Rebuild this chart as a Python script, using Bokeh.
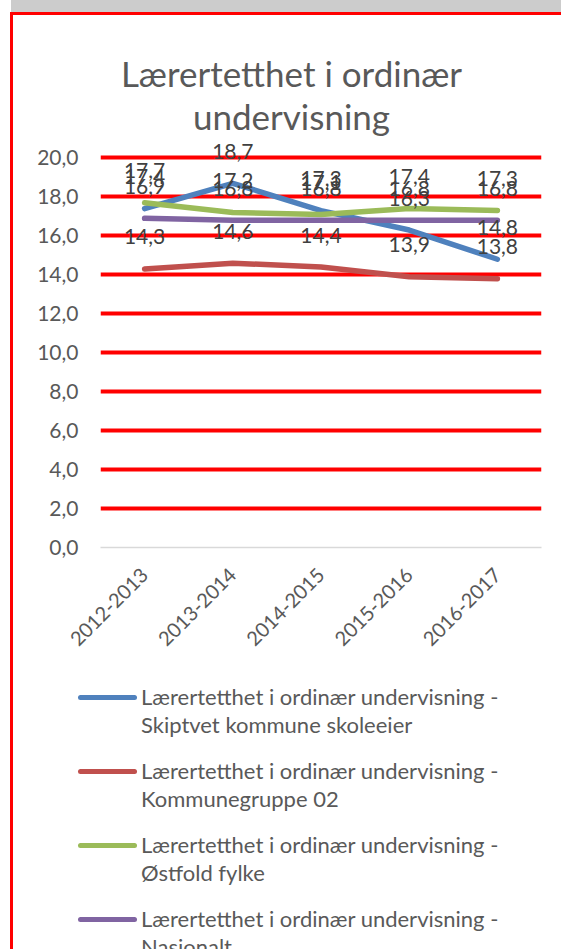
import math
from bokeh.plotting import figure
from bokeh.layouts import column, row
from bokeh.models import (ColumnDataSource, LabelSet, FixedTicker, Range1d,
                          CustomJSTickFormatter, Div, Spacer)
from bokeh.embed import file_html
from bokeh.resources import INLINE
from bokeh.core.properties import value

# ---------------- data ----------------
categories = ["2012-2013", "2013-2014", "2014-2015", "2015-2016", "2016-2017"]
skiptvet = [17.4, 18.7, 17.3, 16.3, 14.8]
kommunegruppe = [14.3, 14.6, 14.4, 13.9, 13.8]
ostfold = [17.7, 17.2, 17.1, 17.4, 17.3]
nasjonalt = [16.9, 16.8, 16.8, 16.8, 16.8]
series_names = [
    "Lærertetthet i ordinær undervisning - Skiptvet kommune skoleeier",
    "Lærertetthet i ordinær undervisning - Kommunegruppe 02",
    "Lærertetthet i ordinær undervisning - Østfold fylke",
    "Lærertetthet i ordinær undervisning - Nasjonalt",
]
y_ticks = [0, 2, 4, 6, 8, 10, 12, 14, 16, 18, 20]
title_lines = ["Lærertetthet i ordinær", "undervisning"]

colors = ["#4F81BD", "#C0504D", "#9BBB59", "#8064A2"]
FONT = "Lato"
TXT = "#595959"
W, H = 561, 949

# page geometry (pixels)
X0 = 13            # left edge of inner content (after red border)
Y0 = 15            # top edge of inner content (after grey band + red border)
FRAME_L, FRAME_R = 100, 541
TITLE_H = 123
CHART_H = 527
LEG_H = H - Y0 - TITLE_H - CHART_H
INNER_W = W - X0

# ---------------- title ----------------
tf = figure(width=INNER_W, height=TITLE_H, x_range=Range1d(FRAME_L, FRAME_R),
            y_range=Range1d(Y0 + TITLE_H, Y0), output_backend="svg",
            toolbar_location=None, title=None, x_axis_location=None, y_axis_location=None,
            min_border_left=FRAME_L - X0, min_border_right=W - FRAME_R,
            min_border_top=0, min_border_bottom=0, margin=0)
tf.grid.visible = False
tf.outline_line_color = None
tf.text(x=[291] * len(title_lines), y=[72 + 43 * i for i in range(len(title_lines))],
        text=title_lines, text_align="center", text_baseline="alphabetic",
        text_font=value(FONT), text_font_size="35px", text_color=TXT)

# ---------------- chart ----------------
p = figure(x_range=categories, y_range=Range1d(0, 21), width=INNER_W, height=CHART_H,
           output_backend="svg", toolbar_location=None, title=None,
           min_border_left=FRAME_L - X0, min_border_right=W - FRAME_R, min_border_top=0,
           min_border_bottom=665 - 547, margin=0)
p.background_fill_color = "white"
p.border_fill_color = "white"
p.outline_line_color = None

p.yaxis.ticker = FixedTicker(ticks=y_ticks)
p.yaxis.formatter = CustomJSTickFormatter(code="return tick.toFixed(1).replace('.', ',');")
p.yaxis.axis_line_color = None
p.yaxis.major_tick_line_color = None
p.yaxis.minor_tick_line_color = None
p.yaxis.major_label_text_font = FONT
p.yaxis.major_label_text_font_size = "21px"
p.yaxis.major_label_text_color = TXT
p.yaxis.major_label_standoff = 16

p.xaxis.axis_line_color = "#D9D9D9"
p.xaxis.axis_line_width = 1.5
p.xaxis.major_tick_line_color = None
p.xaxis.minor_tick_line_color = None
p.xaxis.major_label_orientation = math.pi / 4
p.xaxis.major_label_text_font = FONT
p.xaxis.major_label_text_font_size = "20px"
p.xaxis.major_label_text_color = TXT
p.xaxis.major_label_standoff = 18

p.xgrid.grid_line_color = None
p.ygrid.ticker = FixedTicker(ticks=[t for t in y_ticks if t > 0])
p.ygrid.grid_line_color = "#FF0000"
p.ygrid.grid_line_width = 4

all_series = [skiptvet, kommunegruppe, ostfold, nasjonalt]
for vals, col in zip(all_series, colors):
    p.line(x=categories, y=vals, line_color=col, line_width=5.5,
           line_cap="round", line_join="round")

for vals in all_series:
    src = ColumnDataSource(dict(x=categories, y=vals,
                                t=[("%.1f" % v).replace(".", ",") for v in vals]))
    p.add_layout(LabelSet(x="x", y="y", text="t", source=src, y_offset=32,
                          text_align="center", text_baseline="middle",
                          text_font=value(FONT), text_font_size=value("21px"),
                          text_color="#404040", level="overlay"))

# ---------------- legend (HTML) ----------------
LEG_TOP = Y0 + TITLE_H + CHART_H
parts = []
for i, (name, col) in enumerate(zip(series_names, colors)):
    cy = 697 + 74 * i - LEG_TOP
    first, second = name.split(" - ")
    parts.append(
        f'<div style="position:absolute;left:{78 - X0}px;top:{cy - 2.5}px;width:59px;height:5px;'
        f'border-radius:3px;background:{col};"></div>'
        f'<div style="position:absolute;left:{141 - X0}px;top:{cy - 14.5}px;line-height:28.5px;'
        f'white-space:nowrap;">{first} -<br>{second}</div>'
    )
legend = Div(text="".join(parts), width=INNER_W, height=LEG_H, margin=0,
             styles={"position": "relative", "overflow": "hidden", "font-family": FONT,
                     "font-size": "22px", "color": TXT, "background-color": "white"})

# ---------------- frame decoration ----------------
grey = Div(text="", width=W - 11, height=12, margin=0,
           styles={"background-color": "#CCCCCC"})
red_top = Div(text="", width=W - 10, height=Y0 - 12, margin=0,
              styles={"background-color": "#FF0000"})
red_left = Div(text="", width=X0 - 10, height=H - Y0, margin=0,
               styles={"background-color": "#FF0000"})

layout = column(
    row(Spacer(width=11, height=12, margin=0), grey, spacing=0, margin=0),
    row(Spacer(width=10, height=Y0 - 12, margin=0), red_top, spacing=0, margin=0),
    row(Spacer(width=10, height=H - Y0, margin=0), red_left,
        column(tf, p, legend, spacing=0, margin=0), spacing=0, margin=0),
    spacing=0, margin=0,
)

html = file_html(layout, INLINE)
html = html.replace("</head>", "<style>html,body{margin:0;padding:0;overflow:hidden;background:#fff;}</style></head>", 1)
open("out.html", "w").write(html)
